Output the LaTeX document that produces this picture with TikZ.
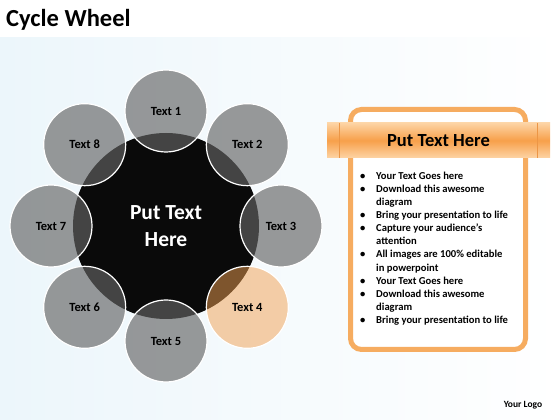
\documentclass[tikz,border=0pt]{standalone}
\usepackage{fontspec}
\setmainfont{Carlito}
\usetikzlibrary{calc,positioning}
\definecolor{petalgray}{RGB}{100,100,100}
\definecolor{petalorange}{RGB}{242,160,80}
\definecolor{hubblack}{RGB}{10,10,10}
\definecolor{skyback}{RGB}{236,246,251}
\definecolor{frameorange}{RGB}{246,172,96}
\definecolor{bannerlight}{RGB}{253,212,165}
\definecolor{bannerdeep}{RGB}{247,160,74}
\definecolor{bannerend}{RGB}{236,150,70}
\tikzset{hub/.style={circle, minimum size=186pt, inner sep=0pt, fill=hubblack, text=white, align=center, font=\bfseries\fontsize{21.5}{27}\selectfont},
  petal/.style={circle, minimum size=82pt, inner sep=0pt, draw=white, line width=1.2pt, fill=petalgray, fill opacity=0.65, text opacity=1, font=\bfseries\fontsize{12.5}{14}\selectfont},
  petalhot/.style={petal, fill=petalorange, fill opacity=0.5},
  card/.style={rectangle, rounded corners=11pt, minimum width=175pt, minimum height=240pt, draw=frameorange, line width=5pt, fill=white},
  banner/.style={rectangle, minimum width=223pt, minimum height=35pt, inner sep=0pt, top color=bannerlight, bottom color=bannerlight, middle color=bannerdeep, font=\bfseries\fontsize{18.5}{21}\selectfont},
  items/.style={inner sep=0pt, align=left, font=\bfseries\fontsize{10.6}{13.1}\selectfont},
  heading/.style={inner sep=0pt, font=\bfseries\fontsize{24.5}{28}\selectfont}}

\begin{document}
\begin{tikzpicture}[x=1pt,y=1pt]
    \useasboundingbox (0,0) rectangle (560,420);
    \fill[white] (0,0) rectangle (560,420);
    \shade[left color=skyback, right color=white] (0,0) rectangle (560,382);
    \node[heading, anchor=west] (title) at (6,400) {Cycle Wheel};
    \node[hub] (H) at (166,194) {Put Text\\Here};
    \node[petal] (T1) at ($(H)+(90:115)$) {Text 1};
    \node[petal] (T2) at ($(H)+(45:115)$) {Text 2};
    \node[petal] (T3) at ($(H)+(0:115)$) {Text 3};
    \node[petalhot] (T4) at ($(H)+(-45:115)$) {Text 4};
    \node[petal] (T5) at ($(H)+(-90:115)$) {Text 5};
    \node[petal] (T6) at ($(H)+(-135:115)$) {Text 6};
    \node[petal] (T7) at ($(H)+(180:115)$) {Text 7};
    \node[petal] (T8) at ($(H)+(135:115)$) {Text 8};
    \node[card] (C) at (438,190.5) {};
    \node[banner] (B) at (438.5,279.5) {Put Text Here};
    \draw[bannerend, line width=0.8pt] ($(B.north west)+(13,0)$) -- ($(B.south west)+(13,0)$);
    \draw[bannerend, line width=0.8pt] ($(B.north east)+(-13,0)$) -- ($(B.south east)+(-13,0)$);
    \node[items, anchor=north west] (L) at (360,250) {\begin{tabular}{@{}p{16pt}@{}l@{}}
        \textbullet & Your Text Goes here\\
        \textbullet & Download this awesome\\
                    & diagram\\
        \textbullet & Bring your presentation to life\\
        \textbullet & Capture your audience’s\\
                    & attention\\
        \textbullet & All images are 100\% editable\\
                    & in powerpoint\\
        \textbullet & Your Text Goes here\\
        \textbullet & Download this awesome\\
                    & diagram\\
        \textbullet & Bring your presentation to life
    \end{tabular}};
    \node[inner sep=0pt, font=\bfseries\fontsize{9.5}{10}\selectfont] (logo) at (523,15) {Your Logo};
\end{tikzpicture}
\end{document}
